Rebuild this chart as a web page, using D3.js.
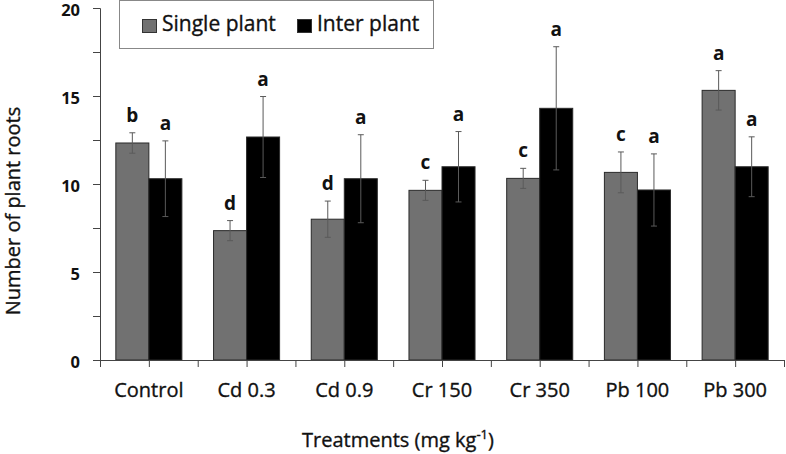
<!DOCTYPE html>
<html>
<head>
<meta charset="utf-8">
<script src="https://cdn.jsdelivr.net/npm/d3@7"></script>
<style>
  body { margin: 0; background: #fff; }
  text { font-family: "Open Sans", sans-serif; fill: #111; }
  .heavy { stroke: #111; stroke-width: 0.35px; }
</style>
</head>
<body>
<div id="chart"></div>
<script>
var svgWidth = 786;
var svgHeight = 454;

// data
var treatments = ['Control', 'Cd 0.3', 'Cd 0.9', 'Cr 150', 'Cr 350', 'Pb 100', 'Pb 300'];
var seriesNames = ['Single plant', 'Inter plant'];
var singleMeans = [12.33, 7.35, 8.0, 9.64, 10.32, 10.66, 15.32];
var singleErr = [0.58, 0.57, 1.03, 0.57, 0.57, 1.16, 1.12];
var interMeans = [10.3, 12.67, 10.3, 10.98, 14.3, 9.66, 10.98];
var interErr = [2.15, 2.3, 2.5, 2.0, 3.5, 2.05, 1.7];
var singleLetters = ['b', 'd', 'd', 'c', 'c', 'c', 'a'];
var interLetters = ['a', 'a', 'a', 'a', 'a', 'a', 'a'];
var yTicks = [0, 5, 10, 15, 20];
var yMinorTicks = [2.5, 7.5, 12.5, 17.5];

var colors = ['#717171', '#000000'];

var margin = { left: 100, top: 8, right: 2, bottom: 94 };
var width = svgWidth - margin.left - margin.right;
var height = svgHeight - margin.top - margin.bottom;

var svg = d3.select('#chart').append('svg')
    .attr('width', svgWidth)
    .attr('height', svgHeight);

var chartArea = svg.append('g')
    .attr('transform', `translate(${margin.left},${margin.top})`);

var rows = [];
treatments.forEach((t, i) => {
    rows.push({ t: t, s: 0, v: singleMeans[i], e: singleErr[i], l: singleLetters[i] });
    rows.push({ t: t, s: 1, v: interMeans[i], e: interErr[i], l: interLetters[i] });
});

var x0 = d3.scaleBand()
    .domain(treatments)
    .range([0, width])
    .paddingInner(0.324)
    .paddingOuter(0.162);

var x1 = d3.scaleBand()
    .domain([0, 1])
    .range([0, x0.bandwidth()]);

var yScale = d3.scaleLinear()
    .domain([0, 20])
    .range([height, 0]);

// bars
chartArea.selectAll('.bar')
    .data(rows)
    .enter()
    .append('rect')
    .classed('bar', true)
    .attr('x', d => x0(d.t) + x1(d.s))
    .attr('y', d => yScale(d.v))
    .attr('width', x1.bandwidth())
    .attr('height', d => height - yScale(d.v))
    .attr('fill', d => colors[d.s])
    .attr('stroke', '#2a2a2a')
    .attr('stroke-width', 1);

// error bars
var errs = chartArea.selectAll('.err')
    .data(rows)
    .enter()
    .append('g')
    .classed('err', true)
    .attr('stroke', '#5a5a5a')
    .attr('stroke-width', 1);

errs.append('line')
    .attr('x1', d => x0(d.t) + x1(d.s) + x1.bandwidth() / 2)
    .attr('x2', d => x0(d.t) + x1(d.s) + x1.bandwidth() / 2)
    .attr('y1', d => yScale(d.v + d.e))
    .attr('y2', d => yScale(d.v - d.e));

[1, -1].forEach(sign => {
    errs.append('line')
        .attr('x1', d => x0(d.t) + x1(d.s) + x1.bandwidth() / 2 - 3)
        .attr('x2', d => x0(d.t) + x1(d.s) + x1.bandwidth() / 2 + 3)
        .attr('y1', d => yScale(d.v + sign * d.e))
        .attr('y2', d => yScale(d.v + sign * d.e));
});

// significance letters
chartArea.selectAll('.letter')
    .data(rows)
    .enter()
    .append('text')
    .classed('letter', true)
    .attr('x', d => x0(d.t) + x1(d.s) + x1.bandwidth() / 2)
    .attr('y', d => yScale(d.v + d.e) - 11)
    .attr('text-anchor', 'middle')
    .attr('font-size', 19)
    .attr('font-weight', 'bold')
    .text(d => d.l);

// axes
var yAxis = chartArea.append('g')
    .classed('y-axis', true)
    .call(d3.axisLeft(yScale).tickValues(yTicks).tickSize(7).tickPadding(13));

yAxis.selectAll('text')
    .attr('font-size', 16.5)
    .attr('font-weight', 'bold')
    .attr('font-family', '"Open Sans", sans-serif')
    .attr('dy', '0.45em');

chartArea.append('g')
    .call(d3.axisLeft(yScale).tickValues(yMinorTicks).tickSize(7).tickFormat(''))
    .select('.domain').remove();

var halfSteps = d3.range(0, 15);
var xTickScale = d3.scaleLinear()
    .domain([0, 14])
    .range([0, width]);

chartArea.append('g')
    .attr('transform', `translate(0,${height})`)
    .call(d3.axisBottom(xTickScale).tickValues(halfSteps).tickSize(7).tickFormat('').tickSizeOuter(0));

var xAxis = chartArea.append('g')
    .attr('transform', `translate(0,${height})`)
    .call(d3.axisBottom(x0).tickSize(0).tickPadding(23));

xAxis.select('.domain').remove();
xAxis.selectAll('text')
    .classed('heavy', true)
    .attr('font-size', 20)
    .attr('font-family', '"Open Sans", sans-serif');

svg.selectAll('.domain, .tick line').attr('stroke', '#444');

// axis titles
svg.append('text')
    .classed('heavy', true)
    .attr('transform', 'rotate(-90)')
    .attr('x', -211)
    .attr('y', 20)
    .attr('text-anchor', 'middle')
    .attr('font-size', 20)
    .text('Number of plant roots');

var xTitle = svg.append('text')
    .classed('heavy', true)
    .attr('x', 398)
    .attr('y', 447)
    .attr('text-anchor', 'middle')
    .attr('font-size', 20);
xTitle.append('tspan').text('Treatments (mg kg');
xTitle.append('tspan').attr('font-size', 13).attr('dy', -8).text('-1');
xTitle.append('tspan').attr('dy', 8).text(')');

// legend
var legend = svg.append('g').classed('legend', true);

legend.append('rect')
    .attr('x', 119.5)
    .attr('y', 0.5)
    .attr('width', 314)
    .attr('height', 48)
    .attr('fill', '#fff')
    .attr('stroke', '#888');

var legendX = [142, 297];
var items = legend.selectAll('.item')
    .data(seriesNames)
    .enter()
    .append('g')
    .classed('item', true)
    .attr('transform', (d, i) => `translate(${legendX[i]},0)`);

items.append('rect')
    .attr('x', 0.5)
    .attr('y', 19.5)
    .attr('width', 14)
    .attr('height', 13)
    .attr('fill', (d, i) => colors[i])
    .attr('stroke', '#333');

items.append('text')
    .classed('heavy', true)
    .attr('x', 20)
    .attr('y', 31)
    .attr('font-size', 21)
    .text(d => d);
</script>
</body>
</html>
